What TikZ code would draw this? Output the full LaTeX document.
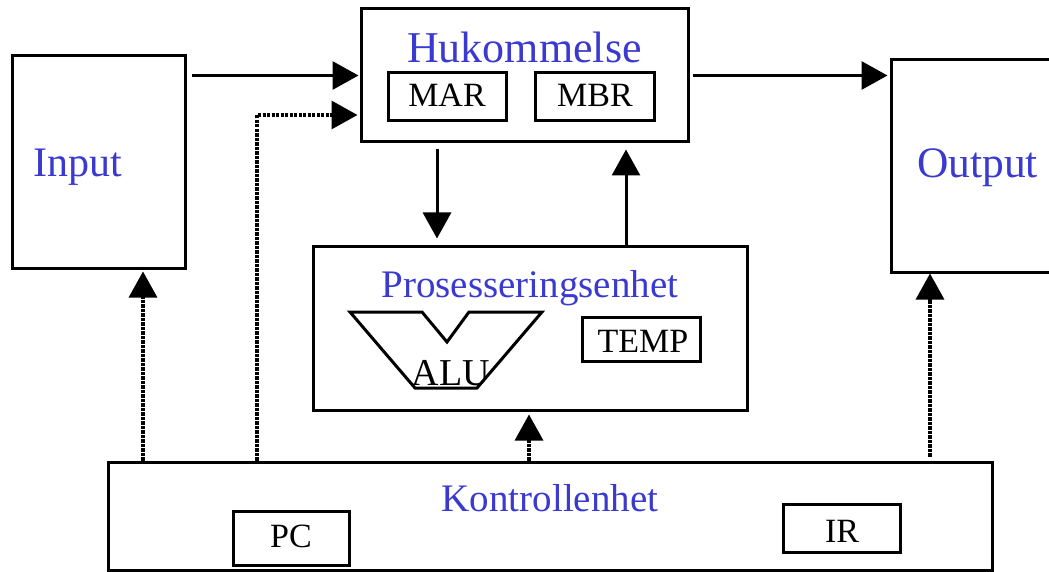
\documentclass[tikz,border=0pt]{standalone}
\usepackage{fontspec}
\setmainfont{Liberation Serif}
\usetikzlibrary{arrows.meta,calc}
\definecolor{lblue}{RGB}{58,58,208}
\begin{document}
\begin{tikzpicture}[x=1pt,y=-1pt,
  box/.style={draw, line width=3pt, inner sep=0pt},
  bluetxt/.style={text=lblue, inner sep=0pt, anchor=base},
  blacktxt/.style={text=black, inner sep=0pt, anchor=base},
  arr/.style={line width=3pt, -{Triangle[length=26pt,width=28pt]}},
  darr/.style={line width=3.2pt, dash pattern=on 3.2pt off 1.3pt, -{Triangle[length=26pt,width=28pt]}}]
\useasboundingbox (0,0) rectangle (1049,572);
% boxes
\node[box, minimum width=173pt, minimum height=212pt] (input) at (98.5,162) {};
\node[box, minimum width=327pt, minimum height=133pt] (huk) at (524.5,75.5) {};
\node[box, minimum width=118pt, minimum height=48pt] (mar) at (447,96.5) {};
\node[box, minimum width=119pt, minimum height=48pt] (mbr) at (594.5,96.5) {};
\node[box, minimum width=171pt, minimum height=212pt] (output) at (976.5,166) {};
\node[box, minimum width=434pt, minimum height=164pt] (pros) at (530,328) {};
\node[box, minimum width=118pt, minimum height=44pt] (temp) at (641,339) {};
\node[box, minimum width=884pt, minimum height=108pt] (kont) at (550,516) {};
\node[box, minimum width=116pt, minimum height=54pt] (pc) at (291,538.5) {};
\node[box, minimum width=117pt, minimum height=48pt] (ir) at (841.5,528.5) {};
% ALU shape
\draw[line width=3pt, line join=miter] (350,312) -- (422,312) -- (447,342) -- (469,312) -- (542,312) -- (477,388) -- (415,388) -- cycle;
% texts
\node[bluetxt, font=\fontsize{44}{44}\selectfont] (thuk) at (524.5,63) {Hukommelse};
\node[bluetxt, font=\fontsize{42}{42}\selectfont] (tin) at (78,177) {Input};
\node[bluetxt, font=\fontsize{43.5}{43.5}\selectfont] (tout) at (977.5,178) {Output};
\node[bluetxt, font=\fontsize{39}{39}\selectfont] (tpros) at (530,297) {Prosesseringsenhet};
\node[bluetxt, font=\fontsize{39}{39}\selectfont] (tkont) at (550,511) {Kontrollenhet};
\node[blacktxt, font=\fontsize{34}{34}\selectfont] (tmar) at (447,107) {MAR};
\node[blacktxt, font=\fontsize{34}{34}\selectfont] (tmbr) at (595,107) {MBR};
\node[blacktxt, font=\fontsize{34}{34}\selectfont] (ttemp) at (643,352) {TEMP};
\node[blacktxt, font=\fontsize{38}{38}\selectfont] (talu) at (451,385) {ALU};
\node[blacktxt, font=\fontsize{34}{34}\selectfont] (tpc) at (291,547) {PC};
\node[blacktxt, font=\fontsize{34}{34}\selectfont] (tir) at (842,542) {IR};
% helper coordinates
\coordinate (xa) at (437,0);
\coordinate (xb) at (626,0);
\coordinate (xc) at (143,0);
\coordinate (xd) at (257,0);
\coordinate (xe) at (529,0);
\coordinate (xf) at (930,0);
\coordinate (bend) at (257,115);
% solid arrows
\draw[arr] ([xshift=5pt]input.east |- huk.west) -- ([xshift=-1pt]huk.west);
\draw[arr] ([xshift=3pt]huk.east) -- ([xshift=-2pt]output.west |- huk.east);
\draw[arr] ([yshift=-6pt]huk.south -| xa) -- ([yshift=6pt]pros.north -| xa);
\draw[arr] (pros.north -| xb) -- ([yshift=-6pt]huk.south -| xb);
% dotted arrows
\draw[darr] (kont.north -| xc) -- ([yshift=-2pt]input.south -| xc);
\draw[darr] (kont.north -| xd) -- (bend) -- ([xshift=-2pt]huk.west |- bend);
\draw[darr] (kont.north -| xe) -- ([yshift=-3pt]pros.south -| xe);
\draw[darr] ([yshift=4pt]kont.north -| xf) -- (output.south -| xf);
\end{tikzpicture}
\end{document}
